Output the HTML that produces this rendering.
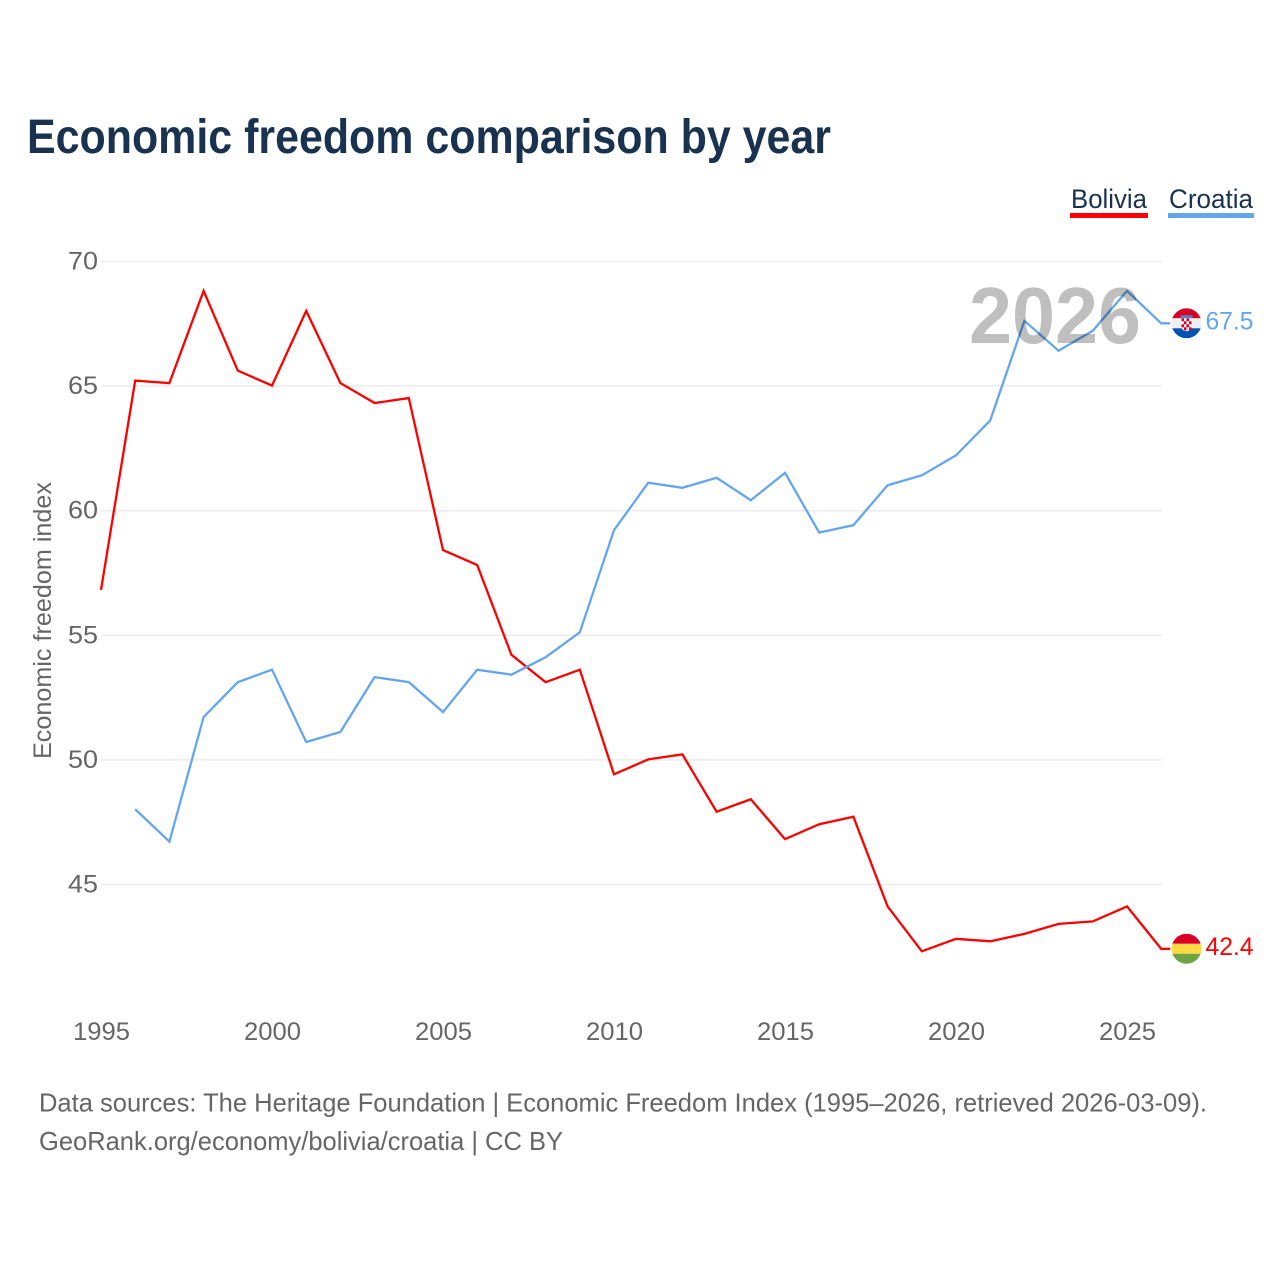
<!DOCTYPE html>
<html lang="en">
<head>
<meta charset="utf-8">
<title>Economic freedom comparison by year</title>
<style>
html,body{margin:0;padding:0;background:#fff;width:1280px;height:1280px;overflow:hidden}
svg{display:block}
text{font-family:"Liberation Sans",sans-serif}
</style>
</head>
<body>
<svg id="chart" xmlns="http://www.w3.org/2000/svg" width="1280" height="1280" viewBox="0 0 1280 1280">
  <rect x="0" y="0" width="1280" height="1280" fill="#ffffff"/>
  <text x="27" y="153" font-size="48" font-weight="bold" fill="#18324f" textLength="804" lengthAdjust="spacingAndGlyphs">Economic freedom comparison by year</text>

  <g>
    <text x="1071" y="208" font-size="27" fill="#18324f" textLength="76" lengthAdjust="spacingAndGlyphs">Bolivia</text>
    <rect x="1070" y="213" width="78" height="5" fill="#ff0000"/>
  </g>
  <g>
    <text x="1169" y="208" font-size="27" fill="#18324f" textLength="84" lengthAdjust="spacingAndGlyphs">Croatia</text>
    <rect x="1168" y="213" width="86" height="5" fill="#64a6ed"/>
  </g>

  <g id="grid"></g>
  <g id="yticks"></g>
  <g id="xticks"></g>
  <text transform="translate(51 759) rotate(-90)" x="0" y="0" font-size="25" fill="#666666" textLength="277" lengthAdjust="spacingAndGlyphs">Economic freedom index</text>

  <g id="series"></g>
  <text x="969" y="343" font-size="80" font-weight="bold" fill="#000000" fill-opacity="0.25" textLength="172" lengthAdjust="spacingAndGlyphs">2026</text>
  <g id="ends"></g>

  <text x="39" y="1111.5" font-size="26" fill="#666666" textLength="1168" lengthAdjust="spacingAndGlyphs">Data sources: The Heritage Foundation | Economic Freedom Index (1995–2026, retrieved 2026-03-09).</text>
  <text x="39" y="1150" font-size="26" fill="#666666" textLength="524" lengthAdjust="spacingAndGlyphs">GeoRank.org/economy/bolivia/croatia | CC BY</text>
</svg>
<script>
const years = [1995,1996,1997,1998,1999,2000,2001,2002,2003,2004,2005,2006,2007,2008,2009,2010,2011,2012,2013,2014,2015,2016,2017,2018,2019,2020,2021,2022,2023,2024,2025,2026];
const bolivia = [56.8,65.2,65.1,68.8,65.6,65.0,68.0,65.1,64.3,64.5,58.4,57.8,54.2,53.1,53.6,49.4,50.0,50.2,47.9,48.4,46.8,47.4,47.7,44.1,42.3,42.8,42.7,43.0,43.4,43.5,44.1,42.4];
const croatia = [null,48.0,46.7,51.7,53.1,53.6,50.7,51.1,53.3,53.1,51.9,53.6,53.4,54.1,55.1,59.2,61.1,60.9,61.3,60.4,61.5,59.1,59.4,61.0,61.4,62.2,63.6,67.6,66.4,67.2,68.8,67.5];
const yTickValues = [70,65,60,55,50,45];
const xTickValues = [1995,2000,2005,2010,2015,2020,2025];

const NS = 'http://www.w3.org/2000/svg';
function xScale(year){ return 101 + (year - 1995) * 34.2; }
function yScale(value){ return 261 + (70 - value) * 24.92; }
function make(tag, attrs, parent){
  const node = document.createElementNS(NS, tag);
  Object.keys(attrs).forEach(function(k){ node.setAttribute(k, attrs[k]); });
  parent.appendChild(node);
  return node;
}

const grid = document.getElementById('grid');
const yticks = document.getElementById('yticks');
yTickValues.forEach(function(v){
  const line = make('line', {x1:101, x2:1162, y1:yScale(v)+0.5, y2:yScale(v)+0.5, stroke:'#ececec', 'stroke-width':1.5}, grid);
  
  
  const label = make('text', {x:68, y:yScale(v)+8.5, 'font-size':25, fill:'#666666', textLength:30, lengthAdjust:'spacingAndGlyphs'}, yticks);
  
  
  label.textContent = v;
});

const xticks = document.getElementById('xticks');
xTickValues.forEach(function(y){
  const label = make('text', {x:xScale(y)-28, y:1040, 'font-size':25, fill:'#666666', textLength:57, lengthAdjust:'spacingAndGlyphs'}, xticks);
  
  
  label.textContent = y;
});

function linePath(values){
  let d = '';
  values.forEach(function(v, i){
    if (v === null) return;
    d += (d ? 'L' : 'M') + xScale(years[i]).toFixed(2) + ' ' + yScale(v).toFixed(2);
  });
  const last = values[values.length - 1];
  d += 'L' + (xScale(years[years.length - 1]) + 9).toFixed(2) + ' ' + yScale(last).toFixed(2);
  return d;
}
const series = document.getElementById('series');
const boliviaLine = make('path', {d:linePath(bolivia), fill:'none', stroke:'#ff0000', 'stroke-width':2.3, 'stroke-linejoin':'miter'}, series);


const croatiaLine = make('path', {d:linePath(croatia), fill:'none', stroke:'#64a6ed', 'stroke-width':2.3, 'stroke-linejoin':'miter'}, series);



const ends = document.getElementById('ends');
function addClip(id, cy){
  const clip = make('clipPath', {id:id}, ends);
  make('circle', {cx:1186.5, cy:cy, r:15}, clip);
}

/* Croatia flag */
const crY = yScale(croatia[croatia.length - 1]);
addClip('clip-croatia', crY);
const crFlag = make('g', {'clip-path':'url(#clip-croatia)'}, ends);


make('rect', {x:1171, y:crY-15, width:31, height:10, fill:'#d80027'}, crFlag);
make('rect', {x:1171, y:crY-5, width:31, height:10, fill:'#f0f0f0'}, crFlag);
make('rect', {x:1171, y:crY+5, width:31, height:10, fill:'#0052b4'}, crFlag);
make('rect', {x:1180.5, y:crY-8, width:12, height:3, fill:'#4f86c6'}, crFlag);
make('path', {d:'M1181.5 '+(crY-5)+'h10v9q0 3-5 4q-5-1-5-4z', fill:'#f6f6f6'}, crFlag);
[0,1,2,3].forEach(function(r){
  [0,1,2,3].forEach(function(c){
    if ((r + c) % 2 === 0) make('rect', {x:1181.5+c*2.5, y:crY-5+r*3, width:2.5, height:3, fill:'#d80027'}, crFlag);
  });
});
const crLabel = make('text', {x:1205.5, y:crY+6, 'font-size':25, fill:'#64a6ed', textLength:48, lengthAdjust:'spacingAndGlyphs'}, ends);


crLabel.textContent = croatia[croatia.length - 1].toFixed(1);

/* Bolivia flag */
const boY = yScale(bolivia[bolivia.length - 1]);
addClip('clip-bolivia', boY);
const boFlag = make('g', {'clip-path':'url(#clip-bolivia)'}, ends);


make('rect', {x:1171, y:boY-15, width:31, height:10, fill:'#d80027'}, boFlag);
make('rect', {x:1171, y:boY-5, width:31, height:10, fill:'#ffda44'}, boFlag);
make('rect', {x:1171, y:boY+5, width:31, height:10, fill:'#6da544'}, boFlag);
const boLabel = make('text', {x:1205.5, y:boY+6, 'font-size':25, fill:'#ff0000', textLength:48, lengthAdjust:'spacingAndGlyphs'}, ends);


boLabel.textContent = bolivia[bolivia.length - 1].toFixed(1);
</script>
</body>
</html>
